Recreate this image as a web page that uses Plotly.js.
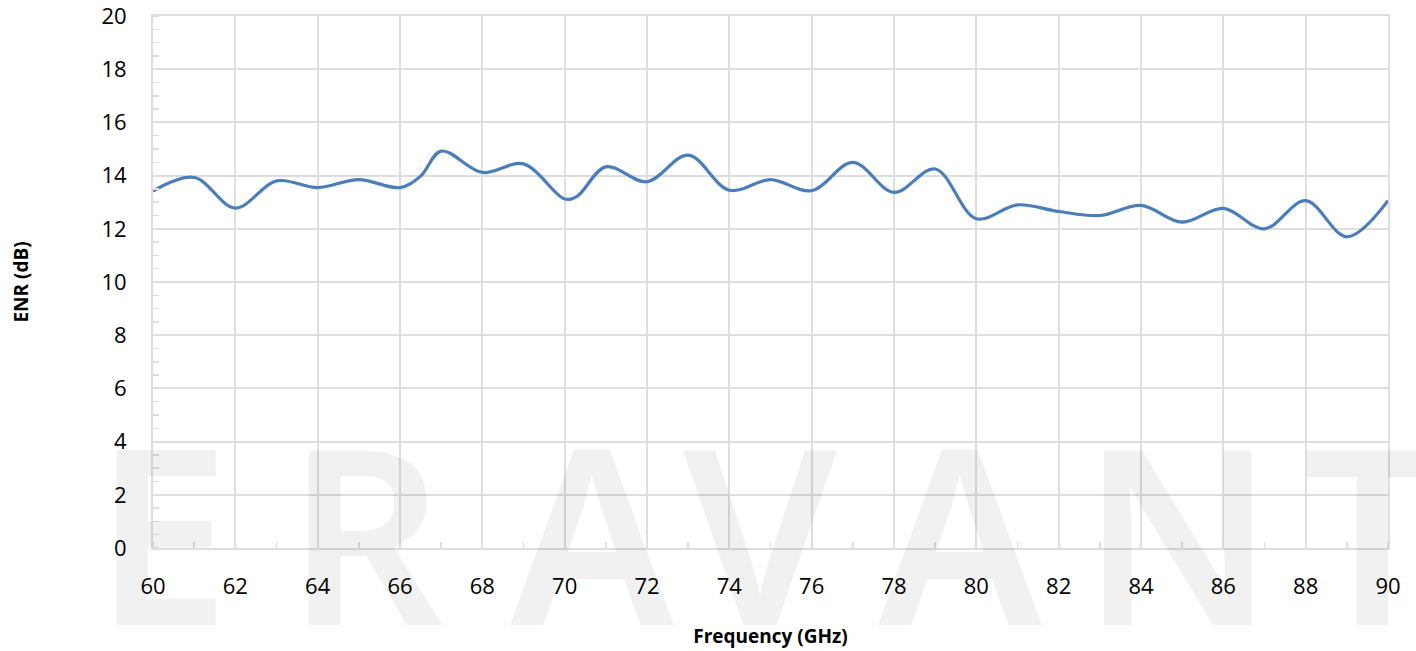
<!DOCTYPE html>
<html>
<head>
<meta charset="utf-8">
<script src="https://cdn.plot.ly/plotly-3.0.1.min.js"></script>
<style>html,body{margin:0;padding:0;background:#fff;}#chart{width:1416px;height:651px;}</style>
</head>
<body>
<div id="chart"></div>
<script>
// Data
const frequencyGHz = [60, 61, 62, 63, 64, 65, 66, 66.5, 67, 68, 69, 70, 70.3, 71, 72, 73, 74, 75, 76, 77, 78, 79, 80, 81, 82, 83, 84, 85, 86, 87, 88, 89, 90];
const enrDb = [13.42, 13.93, 12.78, 13.8, 13.55, 13.85, 13.55, 13.98, 14.92, 14.12, 14.44, 13.12, 13.22, 14.33, 13.77, 14.77, 13.45, 13.85, 13.43, 14.5, 13.37, 14.25, 12.38, 12.9, 12.65, 12.5, 12.88, 12.25, 12.77, 12.0, 13.06, 11.7, 13.06];
const xTickValues = [60, 62, 64, 66, 68, 70, 72, 74, 76, 78, 80, 82, 84, 86, 88, 90];
const yTickValues = [0, 2, 4, 6, 8, 10, 12, 14, 16, 18, 20];
const xTitle = 'Frequency (GHz)';
const yTitle = 'ENR (dB)';
const watermarkLetters = ['E', 'R', 'A', 'V', 'A', 'N', 'T'];

const font = 'Open Sans, Noto Sans, sans-serif';
const grid = '#dedede';

const wmX = [162, 365, 592, 760, 960, 1178, 1372];
const annotations = watermarkLetters.map((ch, i) => ({
  text: ch,
  xref: 'paper', yref: 'paper',
  x: (wmX[i] - 153) / 1235, y: (548 - 530) / 532,
  xanchor: 'center', yanchor: 'middle',
  showarrow: false,
  font: {family: 'Noto Sans, Open Sans, sans-serif', size: 244, weight: 600, color: 'rgba(0,0,0,0.055)'}
}));

const trace = {
  x: frequencyGHz,
  y: enrDb,
  type: 'scatter',
  mode: 'lines',
  line: {color: '#4a7ebb', width: 3.2, shape: 'spline', smoothing: 1},
  hoverinfo: 'x+y'
};

const layout = {
  width: 1416, height: 651,
  margin: {l: 153, r: 28, t: 16, b: 103},
  paper_bgcolor: '#ffffff',
  plot_bgcolor: 'rgba(0,0,0,0)',
  showlegend: false,
  font: {family: font, color: '#000'},
  xaxis: {
    range: [60, 90],
    tickmode: 'array', tickvals: xTickValues,
    ticks: '', showgrid: true, gridcolor: grid, gridwidth: 2,
    showline: true, linecolor: grid, linewidth: 2, mirror: true,
    zeroline: false,
    tickfont: {family: font, size: 22, color: '#000'},
    ticklabelstandoff: 18,
    ticklabeloverflow: 'allow',
    minor: {dtick: 1, ticks: 'inside', ticklen: 6, tickcolor: grid, tickwidth: 1.5, showgrid: false},
    title: {text: xTitle, font: {family: font, size: 19, color: '#000', weight: 'bold'}, standoff: 30}
  },
  yaxis: {
    range: [0, 20.0001],
    tickmode: 'array', tickvals: yTickValues,
    ticks: '', showgrid: true, gridcolor: grid, gridwidth: 2,
    showline: true, linecolor: grid, linewidth: 2, mirror: true,
    zeroline: false,
    tickfont: {family: font, size: 22, color: '#000'},
    ticklabelstandoff: 20,
    ticklabeloverflow: 'allow',
    minor: {dtick: 0.5, ticks: 'inside', ticklen: 6, tickcolor: grid, tickwidth: 1.5, showgrid: false},
    title: {text: yTitle, font: {family: font, size: 19, color: '#000', weight: 'bold'}, standoff: 68}
  },
  annotations: annotations
};

Plotly.newPlot('chart', [trace], layout, {displayModeBar: false, staticPlot: true});
</script>
</body>
</html>
